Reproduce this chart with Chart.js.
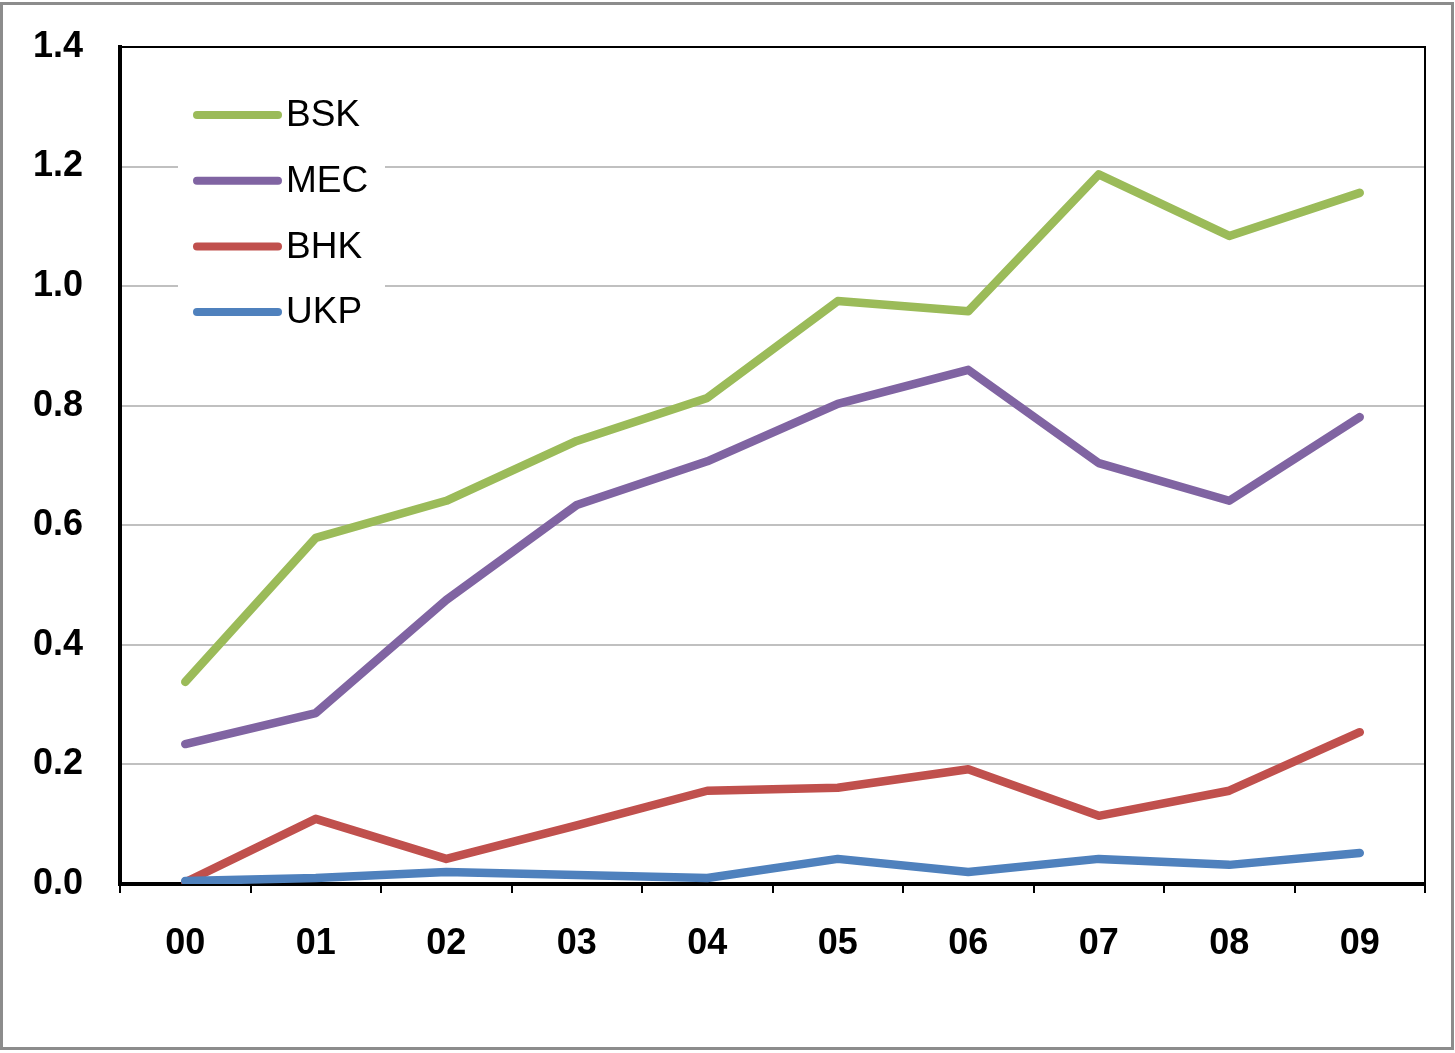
<!DOCTYPE html>
<html>
<head>
<meta charset="utf-8">
<script src="https://cdn.jsdelivr.net/npm/chart.js@4.4.0/dist/chart.umd.min.js"></script>
<style>
  html, body { margin: 0; padding: 0; background: #fff; }
  #wrap { width: 1455px; height: 1053px; position: relative; }
</style>
</head>
<body>
<div id="wrap"><canvas id="chart" width="1455" height="1053"></canvas></div>
<script>
// 데이터
var years = ['00', '01', '02', '03', '04', '05', '06', '07', '08', '09'];
var bsk = [0.338, 0.579, 0.641, 0.741, 0.813, 0.975, 0.958, 1.187, 1.084, 1.156];
var mec = [0.234, 0.286, 0.475, 0.634, 0.707, 0.803, 0.860, 0.704, 0.641, 0.781];
var bhk = [0.003, 0.109, 0.042, 0.098, 0.156, 0.161, 0.192, 0.114, 0.156, 0.254];
var ukp = [0.005, 0.010, 0.020, 0.015, 0.010, 0.042, 0.020, 0.042, 0.032, 0.052];

function series(label, data, color, order) {
    return {
        label: label,
        data: data,
        borderColor: color,
        backgroundColor: color,
        borderWidth: 8.5,
        borderCapStyle: 'round',
        borderJoinStyle: 'round',
        pointRadius: 0,
        tension: 0,
        order: order
    };
}

// 테두리 + 범례
var framePlugin = {
    id: 'frame',
    afterDraw: function (chart) {
        var ctx = chart.ctx;
        var a = chart.chartArea;
        ctx.save();
        // 바깥 회색 테두리
        ctx.strokeStyle = '#8c8c8c';
        ctx.lineWidth = 3;
        ctx.strokeRect(1.5, 3.5, 1451, 1045);
        // 위, 오른쪽 테두리
        ctx.strokeStyle = '#000';
        ctx.lineWidth = 2;
        ctx.beginPath();
        ctx.moveTo(a.left, a.top);
        ctx.lineTo(a.right, a.top);
        ctx.lineTo(a.right, a.bottom);
        ctx.stroke();

        // 범례
        ctx.fillStyle = '#fff';
        ctx.fillRect(178, 82, 207, 262);
        var items = [0, 1, 2, 3];
        ctx.font = '37px "Liberation Sans", Arial, sans-serif';
        ctx.textBaseline = 'middle';
        ctx.textAlign = 'left';
        items.forEach(function (i) {
            var ds = chart.data.datasets[i];
            var y = 115 + i * 65.7;
            ctx.strokeStyle = ds.borderColor;
            ctx.lineWidth = 8;
            ctx.lineCap = 'round';
            ctx.beginPath();
            ctx.moveTo(197, y);
            ctx.lineTo(278, y);
            ctx.stroke();
            ctx.fillStyle = '#000';
            ctx.fillText(ds.label, 286, y + 1);
        });
        ctx.restore();
    }
};

new Chart(document.getElementById('chart').getContext('2d'), {
    type: 'line',
    data: {
        labels: years,
        datasets: [
            series('BSK', bsk, '#9bbb59', 3),
            series('MEC', mec, '#8064a2', 2),
            series('BHK', bhk, '#c0504d', 1),
            series('UKP', ukp, '#4f81bd', 0)
        ]
    },
    options: {
        responsive: false,
        animation: false,
        layout: { padding: { top: 47, right: 30, left: 0, bottom: 0 } },
        plugins: {
            legend: { display: false },
            tooltip: { enabled: false }
        },
        scales: {
            x: {
                offset: true,
                grid: {
                    offset: true,
                    drawOnChartArea: false,
                    drawTicks: true,
                    tickLength: 9,
                    color: '#000',
                    lineWidth: 2
                },
                border: { color: '#000', width: 4 },
                ticks: {
                    color: '#000',
                    padding: 29,
                    font: { family: '"Liberation Sans", Arial, sans-serif', size: 36, weight: 'bold' }
                },
                afterFit: function (scale) { scale.height = 169; }
            },
            y: {
                min: 0,
                max: 1.4,
                grid: {
                    drawTicks: false,
                    color: function (c) { return c.tick.value === 0 ? 'rgba(0,0,0,0)' : '#c0c0c0'; },
                    lineWidth: 2
                },
                border: { color: '#000', width: 4 },
                ticks: {
                    stepSize: 0.2,
                    color: '#000',
                    padding: 37,
                    font: { family: '"Liberation Sans", Arial, sans-serif', size: 36, weight: 'bold' },
                    callback: function (v) { return v.toFixed(1); }
                },
                afterFit: function (scale) {
                    scale.width = 120;
                    scale.paddingTop = 0;
                    scale.paddingBottom = 0;
                }
            }
        }
    },
    plugins: [framePlugin]
});
</script>
</body>
</html>
